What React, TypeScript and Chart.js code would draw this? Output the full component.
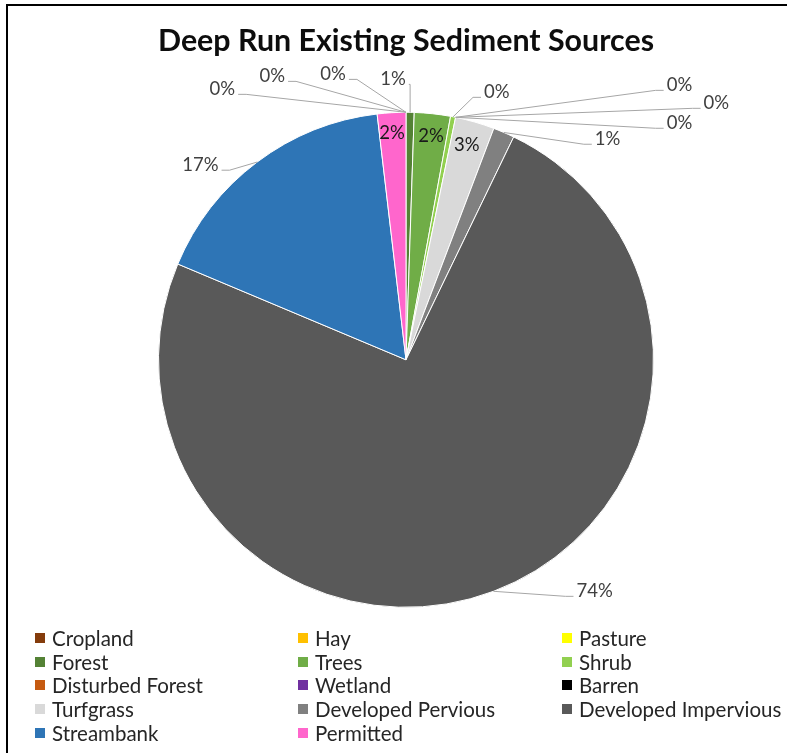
import React, { useEffect, useRef } from "react";
import { Chart, registerables } from "chart.js";

Chart.register(...registerables);

const TITLE = "Deep Run Existing Sediment Sources";

const categories = [
  "Cropland",
  "Hay",
  "Pasture",
  "Forest",
  "Trees",
  "Shrub",
  "Disturbed Forest",
  "Wetland",
  "Barren",
  "Turfgrass",
  "Developed Pervious",
  "Developed Impervious",
  "Streambank",
  "Permitted",
];

// share of sediment load (%)
const sharePercent = [0, 0, 0, 0.53, 2.35, 0.33, 0, 0, 0, 2.56, 1.39, 74.1, 16.8, 1.86];

const sliceColors = [
  "#843C0C",
  "#FFC000",
  "#FFFF00",
  "#548235",
  "#70AD47",
  "#92D050",
  "#C55A11",
  "#7030A0",
  "#000000",
  "#D9D9D9",
  "#808080",
  "#595959",
  "#2E75B6",
  "#FF66CC",
];

// label placement (layout only): text centre offset from pie centre, in px at radius 248
type LabelPlace = { inside: boolean; dx: number; dy: number };
const labelPlacement: LabelPlace[] = [
  { inside: false, dx: -184, dy: -271 },
  { inside: false, dx: -134, dy: -284 },
  { inside: false, dx: -73, dy: -286 },
  { inside: false, dx: -13, dy: -281 },
  { inside: true, dx: 25, dy: -224 },
  { inside: false, dx: 91, dy: -268 },
  { inside: false, dx: 274, dy: -275 },
  { inside: false, dx: 311, dy: -257 },
  { inside: false, dx: 274, dy: -237 },
  { inside: true, dx: 61, dy: -215 },
  { inside: false, dx: 202, dy: -221 },
  { inside: false, dx: 189, dy: 232 },
  { inside: false, dx: -206, dy: -195 },
  { inside: true, dx: -14, dy: -227 },
];

const FONT_FAMILY = "Lato";
const LABEL_FONT = "18.5px Lato";

const pieLabels = {
  id: "pieLabels",
  afterDatasetsDraw(chart: any) {
    const ctx = chart.ctx as CanvasRenderingContext2D;
    const meta = chart.getDatasetMeta(0);
    const values = chart.data.datasets[0].data as number[];
    const total = values.reduce((a, b) => a + b, 0);
    ctx.save();
    ctx.font = LABEL_FONT;
    ctx.textBaseline = "middle";
    ctx.textAlign = "center";
    meta.data.forEach((arc: any, i: number) => {
      const p = arc.getProps(["x", "y", "startAngle", "endAngle", "outerRadius"], true);
      const s = p.outerRadius / 248;
      const place = labelPlacement[i];
      const text = Math.round((values[i] / total) * 100) + "%";
      const tx = p.x + place.dx * s;
      const ty = p.y + place.dy * s;
      if (!place.inside) {
        const mid = (p.startAngle + p.endAngle) / 2;
        const ax = p.x + Math.cos(mid) * p.outerRadius;
        const ay = p.y + Math.sin(mid) * p.outerRadius;
        const w = ctx.measureText(text).width;
        const ly = ty + 5;
        let sx: number, hx: number;
        if (tx < ax) {
          sx = tx + w / 2 + 3;
          hx = Math.min(sx + 8, ax);
        } else {
          sx = tx - w / 2 - 3;
          hx = Math.max(sx - 8, ax);
        }
        ctx.strokeStyle = "#A6A6A6";
        ctx.lineWidth = 1;
        ctx.beginPath();
        ctx.moveTo(sx, ly);
        ctx.lineTo(hx, ly);
        ctx.lineTo(ax, ay);
        ctx.stroke();
        ctx.fillStyle = "#404040";
      } else {
        ctx.fillStyle = "#1a1a1a";
      }
      ctx.fillText(text, tx, ty);
    });
    ctx.restore();
  },
};

export default function App() {
  const canvasRef = useRef<HTMLCanvasElement | null>(null);

  useEffect(() => {
    if (!canvasRef.current) return;
    const chart = new Chart(canvasRef.current, {
      type: "pie",
      data: {
        labels: categories,
        datasets: [
          {
            data: sharePercent,
            backgroundColor: sliceColors,
            borderColor: "#FFFFFF",
            borderWidth: 1,
            hoverOffset: 0,
          },
        ],
      },
      options: {
        animation: false,
        responsive: false,
        events: [],
        layout: { padding: { top: 23, left: 158, right: 133, bottom: 145 } },
        plugins: {
          legend: { display: false },
          tooltip: { enabled: false },
          title: {
            display: true,
            text: TITLE,
            color: "#0D0D0D",
            font: { family: FONT_FAMILY, size: 30.5, weight: "bold" },
            padding: { top: 0, bottom: 52 },
          },
        },
      },
      plugins: [pieLabels],
    });
    return () => chart.destroy();
  }, []);

  return (
    <div>
      <div
        style={{
          position: "fixed",
          left: 6,
          top: 4,
          right: -20,
          bottom: -20,
          border: "2px solid #000",
          background: "#fff",
        }}
      />
      <canvas
        ref={canvasRef}
        width={787}
        height={753}
        style={{ position: "fixed", left: 0, top: 0, width: 787, height: 753 }}
      />
      <div
        style={{
          position: "fixed",
          left: 35,
          top: 626,
          display: "grid",
          gridTemplateColumns: "263px 264px 220px",
          gridAutoRows: "23.7px",
          fontFamily: FONT_FAMILY,
          fontSize: 20.5,
          color: "#262626",
        }}
      >
        {categories.map((c, i) => (
          <div key={c} style={{ display: "flex", alignItems: "center", whiteSpace: "nowrap" }}>
            <span
              style={{
                display: "inline-block",
                width: 10,
                height: 10,
                background: sliceColors[i],
                marginRight: 7,
              }}
            />
            <span>{c}</span>
          </div>
        ))}
      </div>
    </div>
  );
}
